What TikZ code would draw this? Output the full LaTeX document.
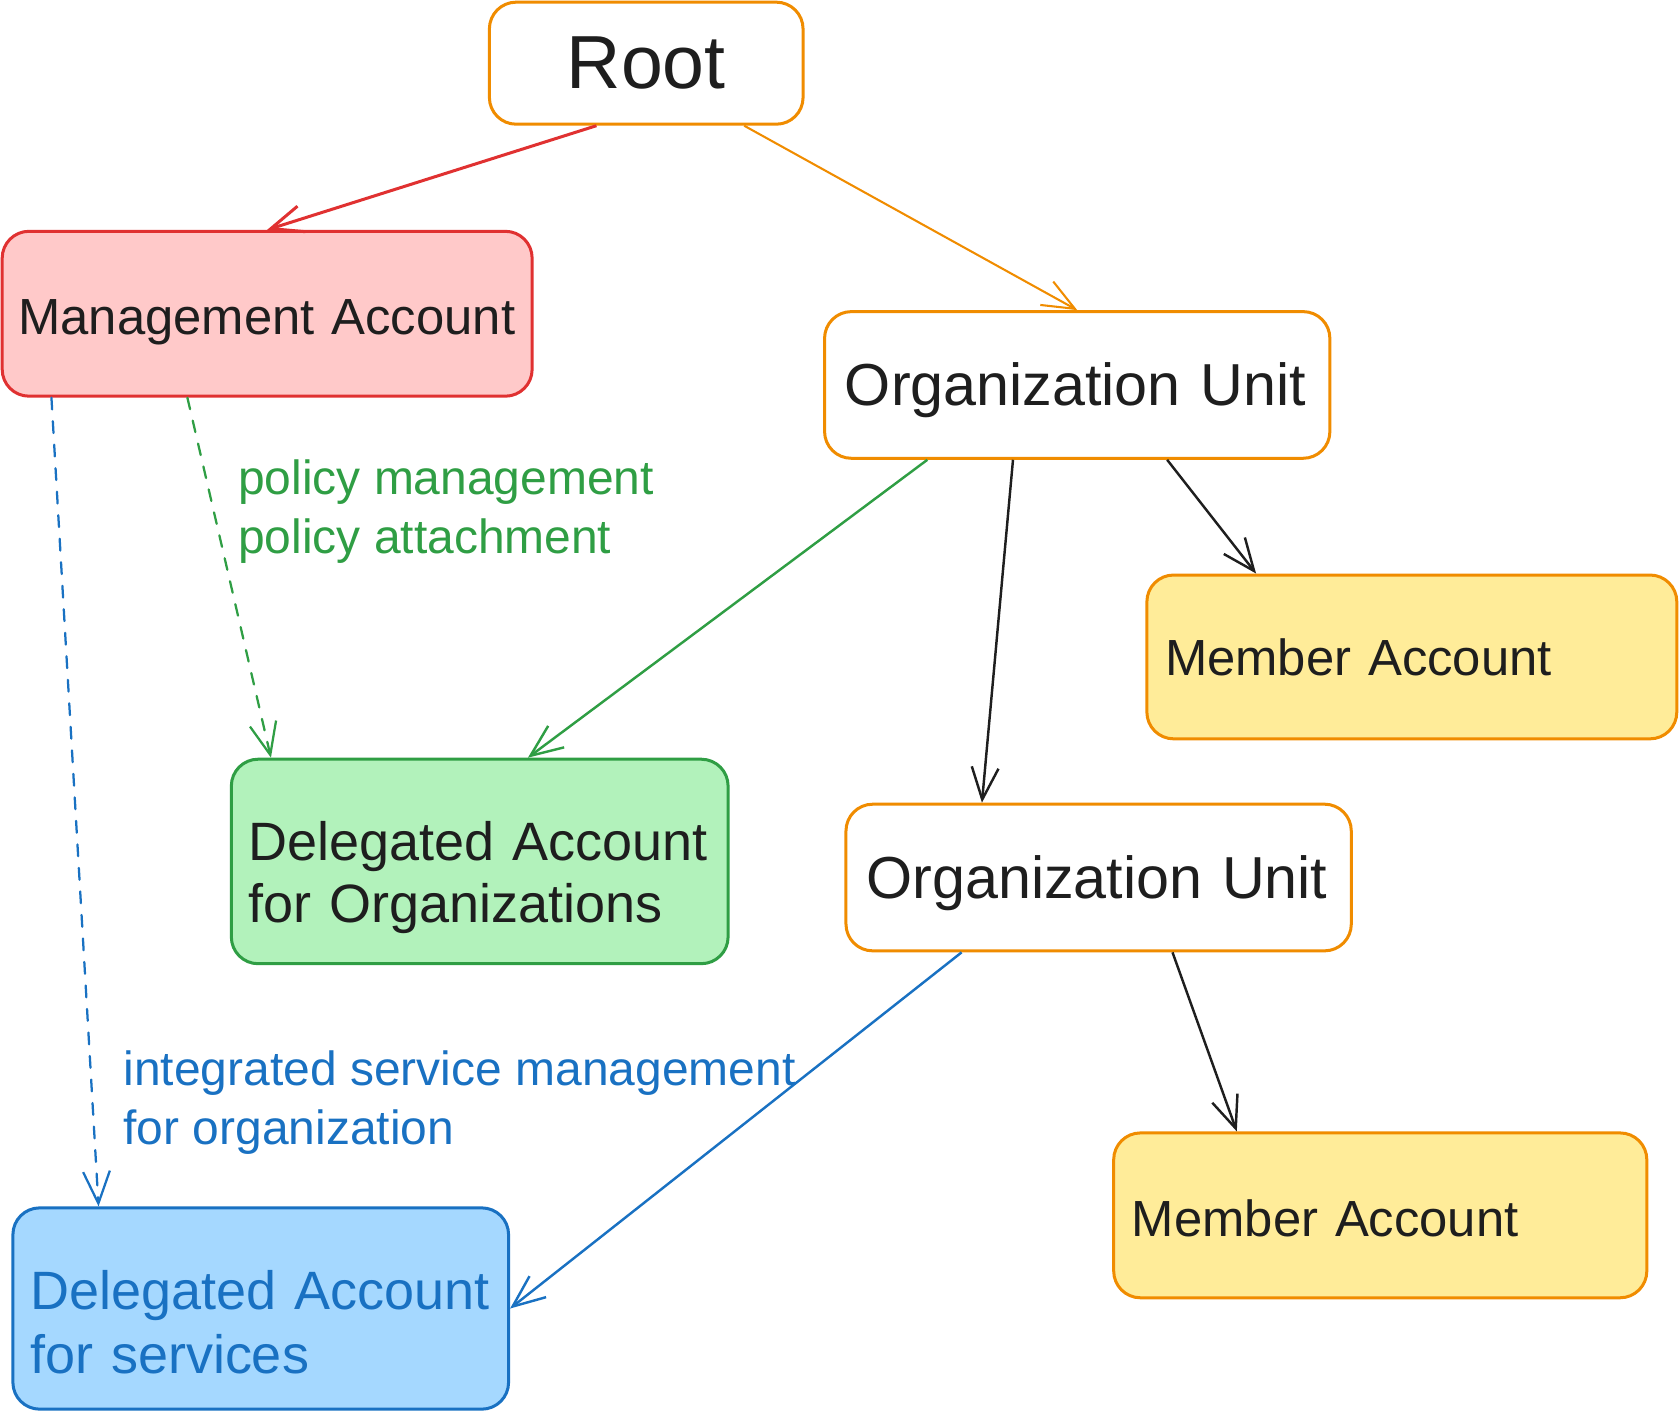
\documentclass[tikz,border=0pt]{standalone}
\usepackage{fontspec}
\setmainfont{Liberation Sans}
\usetikzlibrary{arrows.meta}

\definecolor{ink}{HTML}{1E1E1E}
\definecolor{exred}{HTML}{E03131}
\definecolor{expink}{HTML}{FFC9C9}
\definecolor{exorange}{HTML}{F08C00}
\definecolor{exyellow}{HTML}{FFEC99}
\definecolor{exgreen}{HTML}{2F9E44}
\definecolor{exmint}{HTML}{B2F2BB}
\definecolor{exblue}{HTML}{1971C2}
\definecolor{exsky}{HTML}{A5D8FF}

\begin{document}
\begin{tikzpicture}[x=0.02cm,y=-0.02cm,
    box/.style={draw=exorange,fill=white,line width=1.6pt,rounded corners=0.5cm,
      align=left,inner xsep=0.32cm,inner ysep=0pt,text=ink},
    link/.style={-{Straight Barb[length=0.6cm,width=0.5cm]},line width=1.3pt,ink},
    dashedlink/.style={link,line width=1.2pt,line cap=round,dash pattern=on 0.22cm off 0.22cm},
    note/.style={align=left,inner sep=0pt,anchor=west,font=\fontsize{25.5}{31.3}\selectfont}]
  \useasboundingbox (0,0) rectangle (1568,1318);

  \node[box,align=center,text width=5.22cm,minimum height=2.28cm,font=\fontsize{40}{48}\selectfont] (root) at (603.5,59) {Root};
  \node[box,draw=exred,fill=expink,inner xsep=0.3cm,text width=9.3cm,minimum height=3.08cm,text height=27.5pt,font=\fontsize{27}{33}\selectfont] (mgmt) at (249.5,293) {Management Account};
  \node[box,inner xsep=0.38cm,text width=8.68cm,minimum height=2.74cm,text height=28.5pt,font=\fontsize{31.5}{38}\selectfont] (ou1) at (1006,359.5) {Organization Unit};
  \node[box,fill=exyellow,inner xsep=0.34cm,text width=9.22cm,minimum height=3.06cm,font=\fontsize{27}{33}\selectfont] (member1) at (1318.5,613.5) {Member Account};
  \node[box,draw=exgreen,fill=exmint,text width=8.64cm,minimum height=3.82cm,text height=38pt,font=\fontsize{28.7}{33}\selectfont] (delorg) at (448,804.5) {Delegated Account\\for Organizations};
  \node[box,inner xsep=0.38cm,text width=8.68cm,minimum height=2.74cm,text height=28.5pt,font=\fontsize{31.5}{38}\selectfont] (ou2) at (1026,819.5) {Organization Unit};
  \node[box,fill=exyellow,inner xsep=0.34cm,text width=9.28cm,minimum height=3.08cm,text height=23pt,font=\fontsize{27}{33}\selectfont] (member2) at (1289,1135) {Member Account};
  \node[box,draw=exblue,fill=exsky,text=exblue,text width=8.62cm,minimum height=3.76cm,text height=35pt,font=\fontsize{28.7}{34}\selectfont] (delsvc) at (243.5,1222) {Delegated Account\\for services};

  \node[note,text=exgreen] (policy) at (222,478) {policy management\\policy attachment};
  \node[note,text=exblue] (integrated) at (115,1030) {integrated service management\\for organization};

  \draw[link,exred,line width=1.6pt] ([xshift=-0.93cm]root.south) -- (mgmt.north);
  \draw[link,exorange,line width=1.1pt] ([xshift=1.83cm]root.south) -- (ou1.north);
  \draw[link,exgreen] ([xshift=-2.8cm]ou1.south) -- ([xshift=0.9cm]delorg.north);
  \draw[link] ([xshift=-1.2cm]ou1.south) -- ([xshift=-2.18cm]ou2.north);
  \draw[link] ([xshift=1.68cm]ou1.south) -- ([xshift=-2.91cm]member1.north);
  \draw[dashedlink,exgreen] ([xshift=-1.49cm]mgmt.south) -- ([xshift=-3.9cm]delorg.north);
  \draw[dashedlink,exblue] ([xshift=-4.03cm]mgmt.south) -- ([xshift=-3.03cm]delsvc.north);
  \draw[link,exblue] ([xshift=-2.56cm]ou2.south) -- (delsvc.east);
  \draw[link] ([xshift=1.38cm]ou2.south) -- ([xshift=-2.68cm]member2.north);
\end{tikzpicture}
\end{document}
